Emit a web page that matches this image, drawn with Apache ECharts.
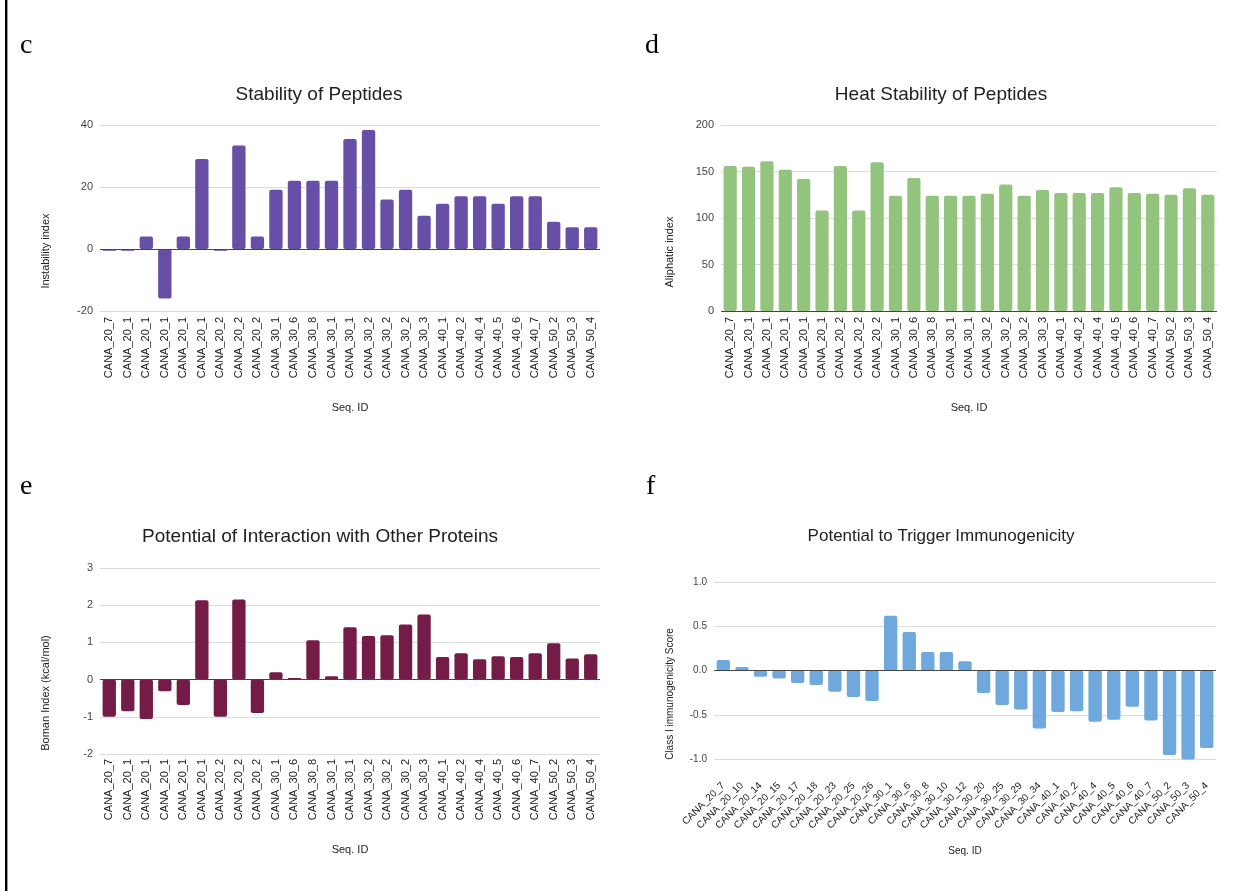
<!DOCTYPE html>
<html><head><meta charset="utf-8">
<script src="https://cdn.jsdelivr.net/npm/echarts@6/dist/echarts.min.js"></script>
<style>html,body{margin:0;padding:0;background:#fff}#c{width:1250px;height:891px}</style>
</head><body><div id="c"></div>
<script>
// ---- data ----
const categories = ['CANA_20_7','CANA_20_10','CANA_20_14','CANA_20_15','CANA_20_17','CANA_20_18','CANA_20_23','CANA_20_25','CANA_20_26','CANA_30_1','CANA_30_6','CANA_30_8','CANA_30_10','CANA_30_12','CANA_30_20','CANA_30_25','CANA_30_29','CANA_30_34','CANA_40_1','CANA_40_2','CANA_40_4','CANA_40_5','CANA_40_6','CANA_40_7','CANA_50_2','CANA_50_3','CANA_50_4'];
const instabilityIndex = [-0.6,-0.6,4,-16,4,29,-0.6,33.4,4,19.1,22,22,22,35.5,38.4,16,19.1,10.7,14.6,17,17,14.6,17,17,8.8,7,7];
const aliphaticIndex = [156,155,161,152,142,108,156,108,160,124,143,124,124,124,126,136,124,130,127,127,127,133,127,126,125,132,125];
const bomanIndex = [-1.0,-0.85,-1.06,-0.31,-0.68,2.13,-1.0,2.15,-0.9,0.2,0.04,1.06,0.09,1.41,1.17,1.19,1.48,1.75,0.61,0.71,0.55,0.63,0.61,0.71,0.98,0.57,0.68];
const immunogenicityScore = [0.12,0.04,-0.07,-0.09,-0.14,-0.165,-0.24,-0.30,-0.345,0.62,0.436,0.21,0.21,0.105,-0.255,-0.39,-0.44,-0.654,-0.47,-0.46,-0.58,-0.556,-0.41,-0.564,-0.955,-1.006,-0.876];
const panelLetters = ['c','d','e','f'];
const titles = ['Stability of Peptides','Heat Stability of Peptides','Potential of Interaction with Other Proteins','Potential to Trigger Immunogenicity'];
const yNames = ['Instability index','Aliphatic index','Boman Index (kcal/mol)','Class I immunogenicity Score'];
const yRanges = [[-20,40,20],[0,200,50],[-2,3,1],[-1,1,0.5]];
const xName = 'Seq. ID';

// ---- layout / style ----
const FONT = 'Arial, "Liberation Sans", sans-serif';
const panels = [
  {data:instabilityIndex, color:'#674ea7', grid:{left:100,top:125,width:500,height:186}, tx:319, ty:84, ts:19, rotate:90, trunc:true, lm:6, xGap:91, yGap:49, shift:66, fs:11, dec:0, letter:[20,46]},
  {data:aliphaticIndex, color:'#93c47d', grid:{left:721,top:125,width:496,height:186}, tx:941, ty:84, ts:19, rotate:90, trunc:true, lm:6, xGap:91, yGap:46, shift:68, fs:11, dec:0, letter:[645,46]},
  {data:bomanIndex, color:'#741b47', grid:{left:100,top:568,width:500,height:186}, tx:320, ty:526, ts:19, rotate:90, trunc:true, lm:5, xGap:90, yGap:49, shift:64, fs:11, dec:0, letter:[20,487]},
  {data:immunogenicityScore, color:'#6fa8dc', grid:{left:714,top:582,width:502,height:177}, tx:941, ty:526, ts:17, rotate:45, trunc:false, lm:25, xGap:87, yGap:39, shift:47, fs:10, dec:1, letter:[646,487]}
];

const option = {animation:false, backgroundColor:'#fff', textStyle:{fontFamily:FONT},
  title:[], grid:[], xAxis:[], yAxis:[], series:[], graphic:[]};

option.graphic.push({type:'rect', shape:{x:5, y:0, width:2.4, height:891}, style:{fill:'#000'}});

panels.forEach((p,i)=>{
  option.title.push({text:titles[i], left:p.tx, top:p.ty, textAlign:'center', padding:0,
    textStyle:{fontSize:p.ts, fontWeight:'normal', color:'#222', fontFamily:FONT, lineHeight:p.ts+3}});
  option.grid.push(Object.assign({containLabel:false}, p.grid));
  option.xAxis.push({type:'category', gridIndex:i, data:categories, boundaryGap:true,
    axisLine:{show:false}, axisTick:{show:false}, splitLine:{show:false},
    axisLabel:{interval:0, rotate:p.rotate, fontSize:p.fs, color:'#222', margin:p.lm, fontFamily:FONT,
      formatter: p.trunc ? (v=>v.slice(0,9)) : (v=>v)},
    name:xName, nameLocation:'middle', nameGap:p.xGap, nameTextStyle:{fontSize:p.fs, color:'#222', fontFamily:FONT}});
  const r = yRanges[i];
  option.yAxis.push({type:'value', gridIndex:i, min:r[0], max:r[1], interval:r[2],
    axisLine:{show:false}, axisTick:{show:false},
    splitLine:{lineStyle:{color:'#dcdcdc', width:1}},
    axisLabel:{fontSize:p.fs, color:'#444', margin:7, fontFamily:FONT, formatter:v=>v.toFixed(p.dec)},
    name:yNames[i], nameLocation:'middle', nameGap:p.yGap,
    nameTextStyle:{fontSize:p.fs, color:'#222', fontFamily:FONT, padding:[0,p.shift,0,0]}});
  option.series.push({type:'bar', xAxisIndex:i, yAxisIndex:i, data:p.data, barCategoryGap:'28%', clip:false,
    itemStyle:{color:p.color, borderRadius:2},
    markLine:{silent:true, symbol:'none', label:{show:false}, animation:false,
      lineStyle:{color:'#444', width:1, type:'solid'}, data:[{yAxis:0}]}});
  option.graphic.push({type:'text', style:{text:panelLetters[i], x:p.letter[0], y:p.letter[1],
    align:'left', verticalAlign:'middle', font:'28px "Liberation Serif", "Times New Roman", serif', fill:'#000'}});
});

const chart = echarts.init(document.getElementById('c'), null, {renderer:'canvas'});
chart.setOption(option);
</script>
</body></html>
